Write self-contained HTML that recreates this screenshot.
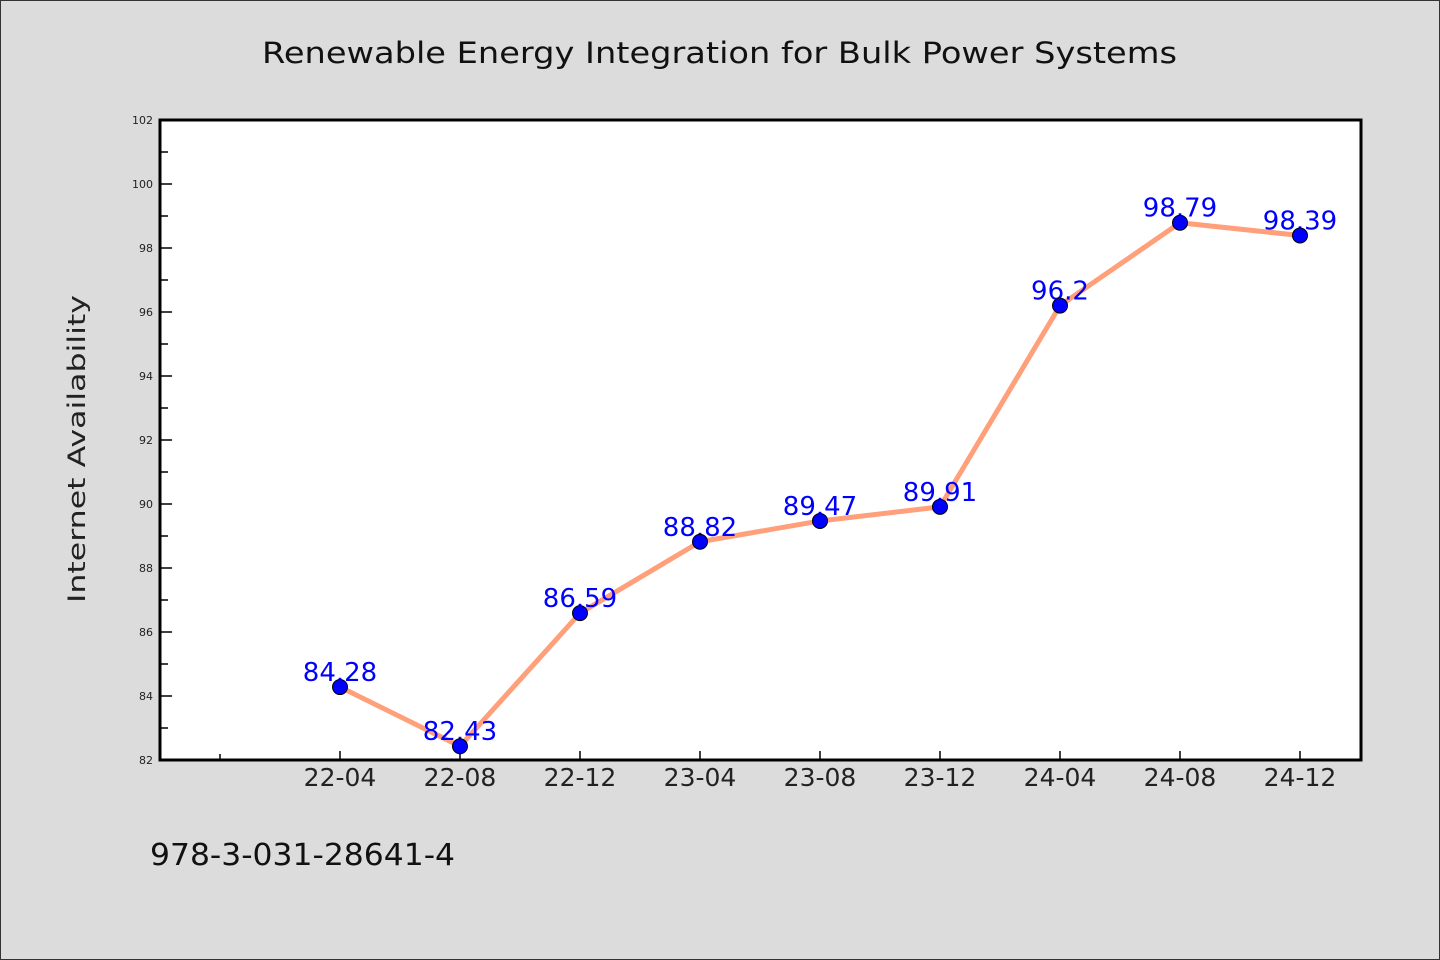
<!DOCTYPE html>
<html><head><meta charset="utf-8"><style>
html,body{margin:0;padding:0;background:#dcdcdc;}
svg{display:block;font-family:"WenQuanYi Zen Hei Mono","WenQuanYi Zen Hei","DejaVu Sans",sans-serif;}
</style></head><body>
<svg id="c" width="1440" height="960" xmlns="http://www.w3.org/2000/svg">
<rect x="0.5" y="0.5" width="1439" height="959" fill="#dcdcdc" stroke="#333"/>
<text x="262" y="63" font-size="29" fill="#111" textLength="915" lengthAdjust="spacingAndGlyphs">Renewable Energy Integration for Bulk Power Systems</text>
<rect x="160" y="120" width="1201" height="640" fill="#fff"/>
<text transform="translate(85,603) rotate(-90)" font-size="24" fill="#222" textLength="308" lengthAdjust="spacingAndGlyphs">Internet Availability</text>
<text x="150" y="865" font-size="30" fill="#111" textLength="305" lengthAdjust="spacingAndGlyphs">978-3-031-28641-4</text>
<g id="axes"></g>
<g id="series"></g>
<rect x="160" y="120" width="1201" height="640" fill="none" stroke="#000" stroke-width="3"/>
</svg>
<script>
const categories=["22-04","22-08","22-12","23-04","23-08","23-12","24-04","24-08","24-12"];
const values=[84.28,82.43,86.59,88.82,89.47,89.91,96.2,98.79,98.39];
const valueLabels=["84.28","82.43","86.59","88.82","89.47","89.91","96.2","98.79","98.39"];
const yTicks=[82,84,86,88,90,92,94,96,98,100,102];
const NS="http://www.w3.org/2000/svg";
const yMin=82,yMax=102,plotTop=120,plotBot=760;
function y(v){return plotBot-(v-yMin)/(yMax-yMin)*(plotBot-plotTop);}
function x(i){return 340+i*120;}
function mk(t,a,p){const e=document.createElementNS(NS,t);for(const k in a)e.setAttribute(k,a[k]);p.appendChild(e);return e;}
const ax=document.getElementById('axes'),se=document.getElementById('series');
yTicks.forEach((v,i)=>{
  const l=mk('line',{x1:160,x2:172,y1:y(v),y2:y(v),stroke:'#000','stroke-width':1.5},ax);
  
  
  const t=mk('text',{x:153,y:y(v)+4,'text-anchor':'end','font-size':11,fill:'#222'},ax);
  t.textContent=v;
  
  
  if(i<yTicks.length-1){
    const m=mk('line',{x1:160,x2:168,y1:y(v+1),y2:y(v+1),stroke:'#000','stroke-width':1.5},ax);
    
    
  }
});
const t0=mk('line',{x1:220,x2:220,y1:760,y2:754,stroke:'#000','stroke-width':1.5},ax);


categories.forEach((c,i)=>{
  const l=mk('line',{x1:x(i),x2:x(i),y1:760,y2:751,stroke:'#000','stroke-width':1.5},ax);
  
  
  const t=mk('text',{x:x(i),y:786,'text-anchor':'middle','font-size':25,fill:'#222'},ax);
  t.textContent=c;
  
  
});
const pl=mk('polyline',{points:values.map((v,i)=>x(i)+','+y(v)).join(' '),fill:'none',stroke:'#ffa07a','stroke-width':5,'stroke-linejoin':'round'},se);


values.forEach((v,i)=>{
  const t=mk('text',{x:x(i),y:y(v)-6,'text-anchor':'middle','font-size':26,fill:'#0000ff'},se);
  t.textContent=valueLabels[i];
  
  
});
values.forEach((v,i)=>{
  const c=mk('circle',{cx:x(i),cy:y(v),r:7.5,fill:'#0000ff',stroke:'#000','stroke-width':1},se);
  
  
});
</script>
</body></html>
